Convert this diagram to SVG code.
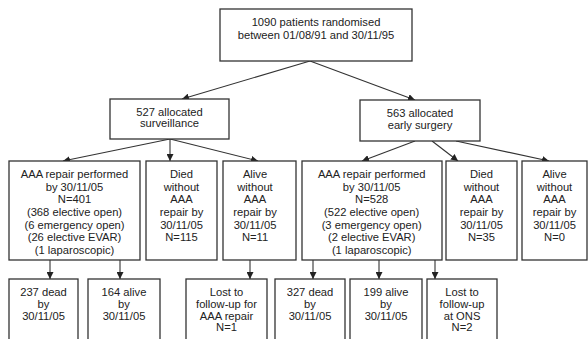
<svg xmlns="http://www.w3.org/2000/svg" width="588" height="339" viewBox="0 0 588 339">
<style>
rect{fill:#fff;stroke:#333;stroke-width:1.3}
text{font-family:"Liberation Sans",Arial,sans-serif;font-size:11.2px;fill:#222;text-anchor:middle}
.c line{stroke:#333;stroke-width:1.1;marker-end:url(#ah)}
</style>
<defs>
<marker id="ah" viewBox="0 0 10 10" refX="10" refY="5" markerWidth="7" markerHeight="7" markerUnits="userSpaceOnUse" orient="auto">
<path d="M0,0L10,5L0,10z" fill="#222"/>
</marker>
</defs>
<rect width="588" height="339" style="stroke:none"/>
<g class="c" id="connectors">
<line x1="310" y1="61" x2="182" y2="99"/>
<line x1="310" y1="61" x2="415" y2="100"/>
<line x1="170" y1="139" x2="63" y2="161"/>
<line x1="170" y1="139" x2="170" y2="161"/>
<line x1="170" y1="139" x2="258" y2="161"/>
<line x1="415" y1="141" x2="362" y2="161"/>
<line x1="432" y1="141" x2="458" y2="161"/>
<line x1="456" y1="141" x2="549" y2="161"/>
<line x1="50" y1="260" x2="50" y2="279"/>
<line x1="120" y1="260" x2="120" y2="279"/>
<line x1="250" y1="260" x2="250" y2="279"/>
<line x1="313" y1="260" x2="313" y2="279"/>
<line x1="379" y1="260" x2="379" y2="279"/>
<line x1="435" y1="260" x2="435" y2="279"/>
</g>
<g id="top"><rect x="220" y="9" width="192" height="52"/>
<text x="316" y="26">1090 patients randomised</text><text x="316" y="39">between 01/08/91 and 30/11/95</text></g>
<g id="surv"><rect x="110" y="99" width="119" height="40"/>
<text x="169.5" y="115.7">527 allocated</text><text x="169.5" y="127.3">surveillance</text></g>
<g id="early"><rect x="360" y="100" width="120" height="41"/>
<text x="420" y="116.7">563 allocated</text><text x="420" y="129">early surgery</text></g>
<g id="s_repair"><rect x="9" y="161" width="131" height="99"/>
<text x="74.5" y="178">AAA repair performed</text><text x="74.5" y="190.7">by 30/11/05</text><text x="74.5" y="203.3">N=401</text><text x="74.5" y="216">(368 elective open)</text><text x="74.5" y="228.7">(6 emergency open)</text><text x="74.5" y="241.3">(26 elective EVAR)</text><text x="74.5" y="254">(1 laparoscopic)</text></g>
<g id="s_died"><rect x="146" y="161" width="71" height="99"/>
<text x="181.5" y="178">Died</text><text x="181.5" y="190.7">without</text><text x="181.5" y="203.3">AAA</text><text x="181.5" y="216">repair by</text><text x="181.5" y="228.7">30/11/05</text><text x="181.5" y="241.3">N=115</text></g>
<g id="s_alive"><rect x="223" y="161" width="73" height="99"/>
<text x="255" y="178">Alive</text><text x="255" y="190.7">without</text><text x="255" y="203.3">AAA</text><text x="255" y="216">repair by</text><text x="255" y="228.7">30/11/05</text><text x="255" y="241.3">N=11</text></g>
<g id="e_repair"><rect x="302" y="161" width="140" height="99"/>
<text x="371.7" y="178">AAA repair performed</text><text x="371.7" y="190.7">by 30/11/05</text><text x="371.7" y="203.3">N=528</text><text x="371.7" y="216">(522 elective open)</text><text x="371.7" y="228.7">(3 emergency open)</text><text x="371.7" y="241.3">(2 elective EVAR)</text><text x="371.7" y="254">(1 laparoscopic)</text></g>
<g id="e_died"><rect x="446" y="161" width="71" height="99"/>
<text x="481.5" y="178">Died</text><text x="481.5" y="190.7">without</text><text x="481.5" y="203.3">AAA</text><text x="481.5" y="216">repair by</text><text x="481.5" y="228.7">30/11/05</text><text x="481.5" y="241.3">N=35</text></g>
<g id="e_alive"><rect x="522" y="161" width="65" height="99"/>
<text x="554.5" y="178">Alive</text><text x="554.5" y="190.7">without</text><text x="554.5" y="203.3">AAA</text><text x="554.5" y="216">repair by</text><text x="554.5" y="228.7">30/11/05</text><text x="554.5" y="241.3">N=0</text></g>
<g id="s_dead"><rect x="9" y="279" width="69" height="70"/>
<text x="43.5" y="295.7">237 dead</text><text x="43.5" y="307.5">by</text><text x="43.5" y="319.5">30/11/05</text></g>
<g id="s_alive2"><rect x="88" y="279" width="72" height="70"/>
<text x="124" y="295.7">164 alive</text><text x="124" y="307.5">by</text><text x="124" y="319.5">30/11/05</text></g>
<g id="s_lost"><rect x="186" y="279" width="81" height="70"/>
<text x="226.5" y="295.7">Lost to</text><text x="226.5" y="307.5">follow-up for</text><text x="226.5" y="319.5">AAA repair</text><text x="226.5" y="331.3">N=1</text></g>
<g id="e_dead"><rect x="275" y="279" width="70" height="70"/>
<text x="310" y="295.7">327 dead</text><text x="310" y="307.5">by</text><text x="310" y="319.5">30/11/05</text></g>
<g id="e_alive2"><rect x="350" y="279" width="72" height="70"/>
<text x="386" y="295.7">199 alive</text><text x="386" y="307.5">by</text><text x="386" y="319.5">30/11/05</text></g>
<g id="e_lost"><rect x="427" y="279" width="70" height="70"/>
<text x="462" y="295.7">Lost to</text><text x="462" y="307.5">follow-up</text><text x="462" y="319.5">at ONS</text><text x="462" y="331.3">N=2</text></g>
</svg>
